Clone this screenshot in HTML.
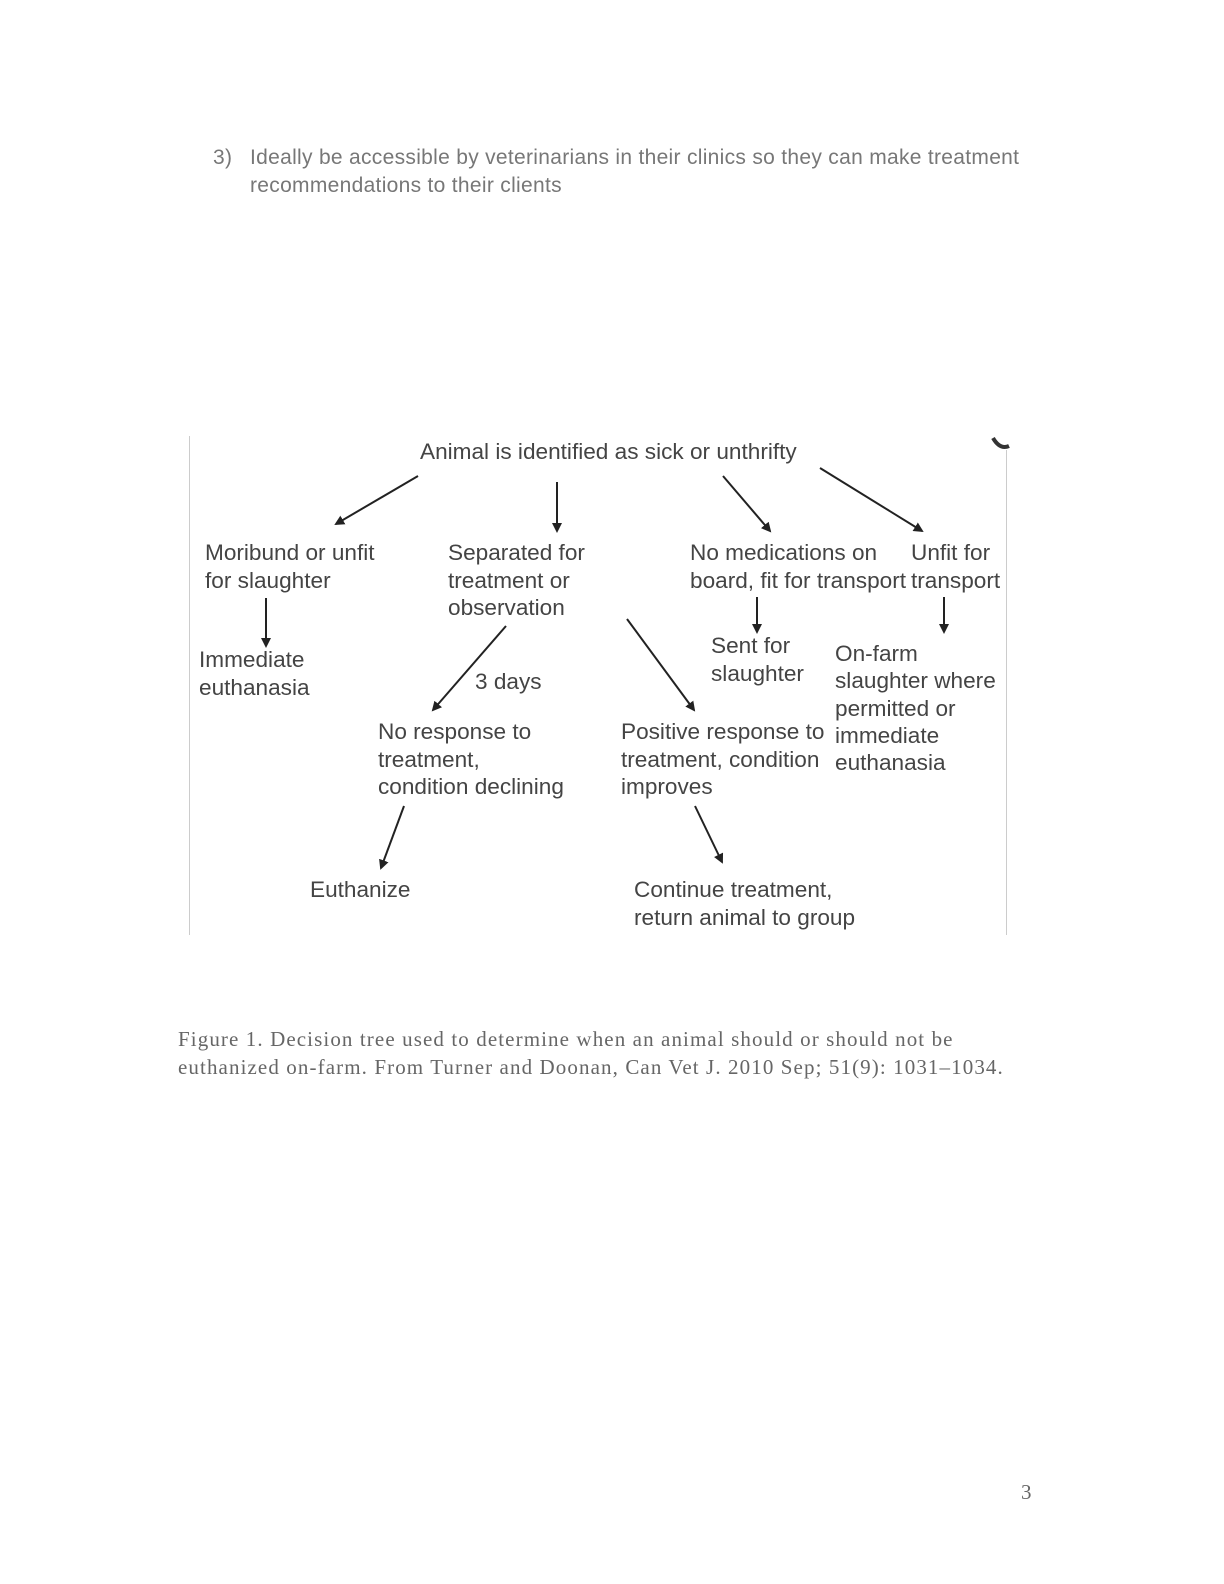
<!DOCTYPE html>
<html><head><meta charset="utf-8"><style>
body{margin:0;width:1224px;height:1584px;background:#fff;position:relative;overflow:hidden}
.t{position:absolute;font-family:"Liberation Sans",sans-serif;font-size:21px;letter-spacing:0.3px;color:#777;white-space:nowrap;line-height:28px}
.d{position:absolute;font-family:"Liberation Sans",sans-serif;font-size:22.6px;color:#444;white-space:nowrap;line-height:28px}
.c{position:absolute;font-family:"Liberation Serif",serif;font-size:21px;letter-spacing:1.1px;color:#666;white-space:nowrap;line-height:28px}
</style></head><body>
<div class="t" style="left:213px;top:144px">3)</div>
<div class="t" style="left:250px;top:144px">Ideally be accessible by veterinarians in their clinics so they can make treatment</div>
<div class="t" style="left:250px;top:172px">recommendations to their clients</div>

<svg style="position:absolute;left:0;top:0" width="1224" height="1584">
<defs><marker id="a" markerWidth="10" markerHeight="10" refX="8" refY="5" orient="auto" markerUnits="userSpaceOnUse"><path d="M0,0 L10,5 L0,10 z" fill="#222"/></marker></defs>
<line x1="189.5" y1="436" x2="189.5" y2="935" stroke="#ccc"/>
<line x1="1006.5" y1="450" x2="1006.5" y2="935" stroke="#ccc"/>
<path d="M993,438 Q1000,450 1009,446" stroke="#333" stroke-width="4" fill="none"/>
<g stroke="#222" stroke-width="2" marker-end="url(#a)">
<line x1="418" y1="476" x2="336" y2="524"/>
<line x1="557" y1="482" x2="557" y2="531"/>
<line x1="723" y1="476" x2="770" y2="531"/>
<line x1="820" y1="468" x2="922" y2="531"/>
<line x1="266" y1="598" x2="266" y2="646"/>
<line x1="506" y1="626" x2="433" y2="710"/>
<line x1="627" y1="619" x2="694" y2="710"/>
<line x1="757" y1="597" x2="757" y2="632"/>
<line x1="944" y1="597" x2="944" y2="632"/>
<line x1="404" y1="806" x2="381" y2="868"/>
<line x1="695" y1="806" x2="722" y2="862"/>
</g></svg>

<div class="d" style="left:420px;top:438px">Animal is identified as sick or unthrifty</div>
<div class="d" style="left:205px;top:539px">Moribund or unfit<br>for slaughter</div>
<div class="d" style="left:448px;top:539px;line-height:27.5px">Separated for<br>treatment or<br>observation</div>
<div class="d" style="left:690px;top:539px">No medications on<br>board, fit for transport</div>
<div class="d" style="left:911px;top:539px">Unfit for<br>transport</div>
<div class="d" style="left:199px;top:646px">Immediate<br>euthanasia</div>
<div class="d" style="left:475px;top:668px">3 days</div>
<div class="d" style="left:711px;top:632px">Sent for<br>slaughter</div>
<div class="d" style="left:835px;top:640px;line-height:27.3px">On-farm<br>slaughter where<br>permitted or<br>immediate<br>euthanasia</div>
<div class="d" style="left:378px;top:718px;line-height:27.5px">No response to<br>treatment,<br>condition declining</div>
<div class="d" style="left:621px;top:718px;line-height:27.5px">Positive response to<br>treatment, condition<br>improves</div>
<div class="d" style="left:310px;top:876px">Euthanize</div>
<div class="d" style="left:634px;top:876px">Continue treatment,<br>return animal to group</div>

<div class="c" style="left:178px;top:1025px">Figure 1. Decision tree used to determine when an animal should or should not be</div>
<div class="c" style="left:178px;top:1053px">euthanized on-farm. From Turner and Doonan, Can Vet J. 2010 Sep; 51(9): 1031–1034.</div>
<div class="c" style="left:1021px;top:1478px">3</div>
</body></html>
